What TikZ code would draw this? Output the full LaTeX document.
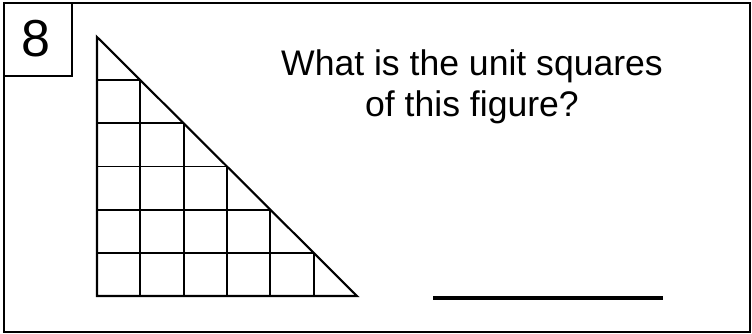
\documentclass[tikz,border=0pt]{standalone}
\usepackage{fontspec}
\setmainfont{Liberation Sans}

\begin{document}
\begin{tikzpicture}[x=0.025cm, y=-0.025cm]
    \useasboundingbox (0,0) rectangle (752,334);
    \draw[line width=1.5pt] (4,3) rectangle (750,332);
    \draw[line width=1.2pt] (4,3) rectangle (72,76);
    \node (num) at (36,38.5) {\fontsize{37}{40}\selectfont 8};

    % triangle with its unit squares
    \draw[line width=1.5pt] (97,37) -- (97,296) -- (357,296) -- cycle;
    \foreach \i in {1,...,5} {
        \draw[line width=1.3pt] ({97+43.33*\i},296) -- ({97+43.33*\i},{37+43.17*\i});
        \draw[line width=1.3pt] (97,{296-43.17*\i}) -- ({357-43.33*\i},{296-43.17*\i});
    }

    \node[align=center, font=\fontsize{25.3}{29.2}\selectfont] (question) at (472,87) {What is the unit squares\\of this figure?};
    \draw[line width=2.2pt] (433,298) -- (663,298);
\end{tikzpicture}
\end{document}
